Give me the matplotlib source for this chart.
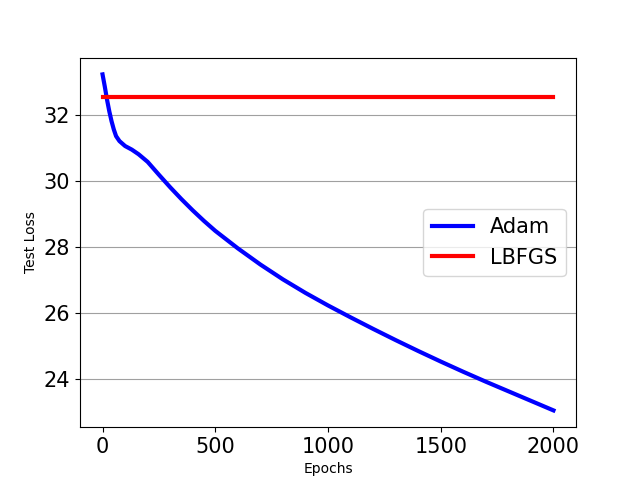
import numpy as np
import matplotlib
matplotlib.use('Agg')
import matplotlib.pyplot as plt

# Epochs and test loss
epochs = [0, 10, 20, 30, 40, 50, 60, 75, 100, 130, 160, 200, 250, 300, 350,
          400, 450, 500, 600, 700, 800, 900, 1000, 1100, 1200, 1300, 1400,
          1500, 1600, 1700, 1800, 1900, 2000]
adam_loss = [33.22, 32.85, 32.45, 32.1, 31.8, 31.55, 31.35, 31.2, 31.05, 30.94,
             30.8, 30.57, 30.18, 29.8, 29.44, 29.1, 28.78, 28.48, 27.95, 27.46,
             27.01, 26.6, 26.22, 25.86, 25.51, 25.17, 24.84, 24.52, 24.21,
             23.91, 23.62, 23.33, 23.04]
lbfgs_epochs = [0, 2000]
lbfgs_loss = [32.55, 32.55]

fig, ax = plt.subplots(figsize=(6.4, 4.8), dpi=100)

ax.plot(epochs, adam_loss, color='blue', linewidth=3, label='Adam')
ax.plot(lbfgs_epochs, lbfgs_loss, color='red', linewidth=3, label='LBFGS')

ax.set_xlabel('Epochs')
ax.set_ylabel('Test Loss')
ax.tick_params(labelsize=15)
ax.grid(axis='y', color='#a0a0a0')
ax.set_axisbelow(True)
ax.legend(fontsize=15, loc='center right')

fig.savefig('out.png')
